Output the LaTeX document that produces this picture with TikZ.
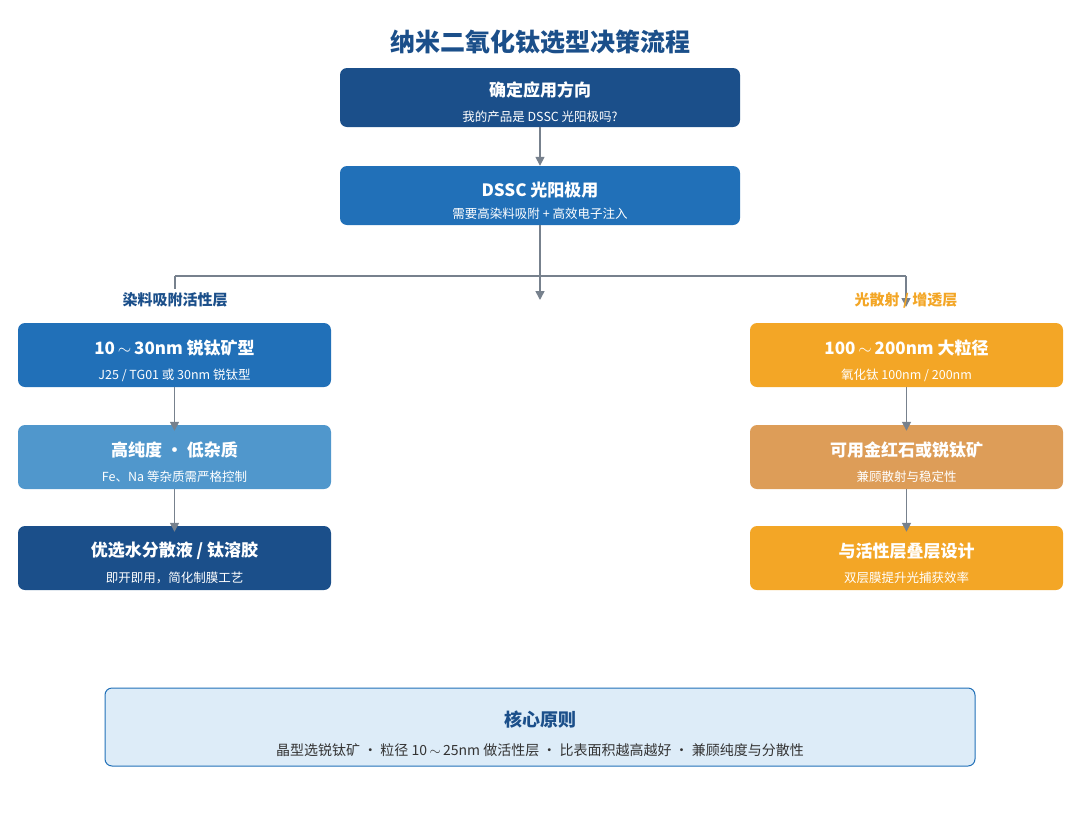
\documentclass[tikz,border=0pt]{standalone}
\usepackage{fontspec}
\setmainfont{Noto Sans CJK SC}
\usetikzlibrary{arrows.meta}
\definecolor{dk}{HTML}{1B4F8A}
\definecolor{md}{HTML}{2170B8}
\definecolor{lt}{HTML}{5097CC}
\definecolor{og}{HTML}{F3A626}
\definecolor{tn}{HTML}{DD9D58}
\definecolor{ln}{HTML}{77818D}
\definecolor{bg}{HTML}{DDECF8}
\begin{document}
\begin{tikzpicture}[x=1pt,y=-1pt,
 box/.style={draw=none,rounded corners=7pt,minimum width=313pt,minimum height=64pt},
 wide/.style={box,minimum width=400pt,minimum height=59pt},
 ttl/.style={text=white,font=\bfseries\fontsize{17}{20}\selectfont},
 sub/.style={text=white,font=\fontsize{12.5}{15}\selectfont},
 arr/.style={draw=ln,line width=1.6pt,-{Triangle[length=9pt,width=9pt]}},
 ln/.style={draw=ln,line width=1.6pt}]
\useasboundingbox (0,0) rectangle (1080,836);
\node[text=dk,font=\bfseries\fontsize{25}{30}\selectfont] (t) at (540,42) {纳米二氧化钛选型决策流程};
\node[wide,fill=dk] (a) at (540,97.5) {};
\node[ttl] at (540,90) {确定应用方向};
\node[sub] at (540,117) {我的产品是 DSSC 光阳极吗?};
\node[wide,fill=md] (b) at (540,195.5) {};
\node[ttl] at (540,190) {DSSC 光阳极用};
\node[sub] at (540,214) {需要高染料吸附 + 高效电子注入};
\draw[arr] (a.south) -- (b.north);
\coordinate (j) at (540,276);
\coordinate (jl) at (175,276);
\coordinate (jr) at (906,276);
\draw[arr] (b.south) -- ([yshift=-24pt]j);
\draw[ln] (b.south) -- (j);
\draw[ln] (jl) -- (jr);
\coordinate (el) at (175,307);
\coordinate (er) at (906,307);
\draw[arr] (jl) -- (el);
\draw[arr] (jr) -- (er);
\node[fill=white,text=dk,font=\bfseries\fontsize{15}{18}\selectfont] (ll) at (175,300) {染料吸附活性层};
\node[text=og,font=\bfseries\fontsize{15}{18}\selectfont] (rl) at (906,300) {光散射 / 增透层};
% left column
\foreach \n/\y/\c/\t/\s in {l1/355/md/{10$\,\sim\,$30nm 锐钛矿型}/{J25 / TG01 或 30nm 锐钛型},
 l2/457/lt/{高纯度 · 低杂质}/{Fe、Na 等杂质需严格控制},
 l3/558/dk/{优选水分散液 / 钛溶胶}/{即开即用，简化制膜工艺}}{
 \node[box,fill=\c] (\n) at (174.5,\y) {};
 \node[ttl] at (174.5,\y-7) {\t};
 \node[sub] at (174.5,\y+20) {\s};
}
\foreach \n/\y/\c/\t/\s in {r1/355/og/{100$\,\sim\,$200nm 大粒径}/{氧化钛 100nm / 200nm},
 r2/457/tn/{可用金红石或锐钛矿}/{兼顾散射与稳定性},
 r3/558/og/{与活性层叠层设计}/{双层膜提升光捕获效率}}{
 \node[box,fill=\c] (\n) at (906.5,\y) {};
 \node[ttl] at (906.5,\y-7) {\t};
 \node[sub] at (906.5,\y+20) {\s};
}
\draw[arr] (l1.south) -- ([yshift=-6pt]l2.north);
\draw[arr] (l2.south) -- ([yshift=-6pt]l3.north);
\draw[arr] (r1.south) -- ([yshift=-6pt]r2.north);
\draw[arr] (r2.south) -- ([yshift=-6pt]r3.north);
\node[draw=md,line width=1pt,fill=bg,rounded corners=7pt,minimum width=870pt,minimum height=78pt] (p) at (540,727) {};
\node[text=dk,font=\bfseries\fontsize{18}{22}\selectfont] at (540,720) {核心原则};
\node[text=black!80,font=\fontsize{14}{17}\selectfont] at (540,750) {晶型选锐钛矿 · 粒径 10$\,\sim\,$25nm 做活性层 · 比表面积越高越好 · 兼顾纯度与分散性};
\end{tikzpicture}
\end{document}
